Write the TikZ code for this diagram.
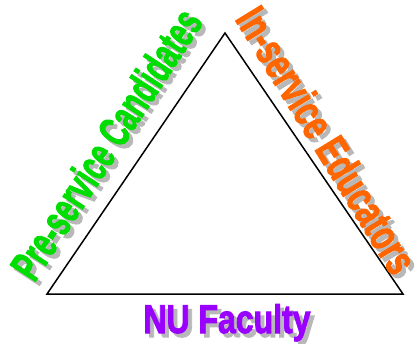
\documentclass[tikz,border=0pt]{standalone}
\usepackage{fontspec}
\setmainfont{Liberation Sans}[BoldFeatures={FakeBold=2.5}]
\definecolor{candgreen}{HTML}{00DD00}
\definecolor{eduorange}{HTML}{FF6600}
\definecolor{facpurple}{HTML}{9900FF}

\begin{document}
\begin{tikzpicture}[x=1pt, y=-1pt,
    label/.style={font=\fontsize{44}{44}\selectfont\bfseries, inner sep=0pt},
    shade/.style={label, text=black!28},
    bottom/.style={anchor=base, xscale=0.8, font=\fontsize{40}{40}\selectfont\bfseries}
  ]
  \useasboundingbox (0,0) rectangle (418,343);

  \coordinate (apex) at (225,33);
  \coordinate (baseleft) at (47,294);
  \coordinate (baseright) at (403,294);
  \draw[line width=1.5pt] (baseleft) -- (apex) -- (baseright) -- cycle;

  % grey shadows first
  \node[shade, rotate=57, xscale=0.64] (candshade) at (110,148) {Pre-service Candidates};
  \node[shade, rotate=-58.5, xscale=0.70] (edushade) at (331,144) {In-service Educators};
  \node[shade, bottom] (facshade) at (231,337) {NU Faculty};

  \node[label, text=candgreen, rotate=57, xscale=0.64] (cand) at (106,144) {Pre-service Candidates};
  \node[label, text=eduorange, rotate=-58.5, xscale=0.70] (edu) at (327,140) {In-service Educators};
  \node[label, text=facpurple, bottom] (fac) at (227,333) {NU Faculty};
\end{tikzpicture}
\end{document}
